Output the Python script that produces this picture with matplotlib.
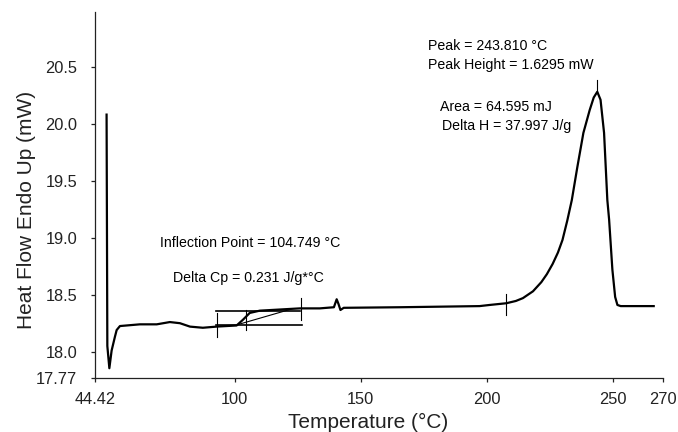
import matplotlib
matplotlib.use("Agg")
import matplotlib.pyplot as plt

plt.rcParams['font.family'] = ['Liberation Sans', 'DejaVu Sans']

# DSC trace (temperature in °C, heat flow in mW)
temp = [49.1, 49.4, 50.2, 51.1, 52.4, 53.1, 54.4, 62.3, 69.0, 74.2, 78.2, 82.2,
        87.3, 92.7, 100.7, 103.2, 105.9, 109.9, 125.8, 133.7, 139.3, 140.4, 141.1,
        141.9, 143.2, 165.4, 197.1, 201.1, 207.7, 211.5, 214.3, 218.3, 221.6, 223.8,
        226.1, 228.2, 230.0, 231.9, 233.7, 235.9, 238.3, 240.8, 242.4, 243.81, 245.1,
        246.5, 247.8, 248.5, 249.8, 250.9, 251.8, 253.1, 266.2]
heat = [20.08, 18.05, 17.855, 18.01, 18.13, 18.19, 18.225, 18.24, 18.24, 18.26,
        18.25, 18.22, 18.21, 18.22, 18.23, 18.28, 18.34, 18.36, 18.38, 18.38, 18.39,
        18.46, 18.42, 18.366, 18.385, 18.39, 18.40, 18.41, 18.425, 18.445, 18.47,
        18.53, 18.61, 18.68, 18.77, 18.87, 18.98, 19.15, 19.33, 19.62, 19.92, 20.12,
        20.23, 20.28, 20.21, 19.92, 19.33, 19.16, 18.72, 18.48, 18.41, 18.40, 18.40]

# glass transition construction lines
base_lo = ([92.6, 126.6], [18.234, 18.234])
base_hi = ([92.6, 126.0], [18.36, 18.36])
tangent = ([101.5, 121.8], [18.24, 18.37])
# vertical markers: (temperature, low, high)
markers = [(92.8, 18.13, 18.34), (104.6, 18.19, 18.365), (126.1, 18.28, 18.47),
           (207.4, 18.32, 18.51), (243.81, 20.28, 20.38)]

xticks = [44.42, 100, 150, 200, 250, 270]
xlabels = ["44.42", "100", "150", "200", "250", "270"]
yticks = [17.77, 18.0, 18.5, 19.0, 19.5, 20.0, 20.5]
ylabels = ["17.77", "18.0", "18.5", "19.0", "19.5", "20.0", "20.5"]

fig = plt.figure(figsize=(6.78, 4.32), dpi=100)
ax = fig.add_axes([0.1398, 0.1252, 0.8385, 0.847])

ax.plot(temp, heat, color='black', lw=1.6, solid_joinstyle='round')
ax.plot(*base_lo, color='black', lw=1.2)
ax.plot(*base_hi, color='black', lw=1.2)
ax.plot(*tangent, color='black', lw=0.8)
for t, lo, hi in markers:
    ax.plot([t, t], [lo, hi], color='black', lw=0.8)

txt = dict(fontsize=10.2, color='black', va='center', ha='left')
ax.text(176.6, 20.68, "Peak = 243.810 °C", **txt)
ax.text(176.6, 20.515, "Peak Height = 1.6295 mW", **txt)
ax.text(181.3, 20.15, "Area = 64.595 mJ", **txt)
ax.text(182.1, 19.98, "Delta H = 37.997 J/g", **txt)
ax.text(70.3, 18.95, "Inflection Point = 104.749 °C", **txt)
ax.text(75.5, 18.65, "Delta Cp = 0.231 J/g*°C", **txt)

ax.set_xlim(44.42, 270)
ax.set_ylim(17.77, 20.98)
ax.set_xticks(xticks)
ax.set_xticklabels(xlabels)
ax.set_yticks(yticks)
ax.set_yticklabels(ylabels)

for s in ['top', 'right']:
    ax.spines[s].set_visible(False)
for s in ['left', 'bottom']:
    ax.spines[s].set_linewidth(0.9)
    ax.spines[s].set_color('#222222')

ax.tick_params(axis='x', length=3, width=0.9, pad=7, labelsize=11.8, colors='#222222')
ax.tick_params(axis='y', length=3, width=0.9, pad=9.5, labelsize=11.8, colors='#222222')

ax.set_xlabel("Temperature (°C)", fontsize=15, color='#222222')
ax.xaxis.label.set_va('baseline')
ax.xaxis.set_label_coords(0.48, -0.137)
ax.set_ylabel("Heat Flow Endo Up (mW)", fontsize=15, color='#222222')
ax.yaxis.set_label_coords(-0.12, 0.46)
ax.yaxis.label.set_va('center')

fig.savefig("out.png", dpi=100)
